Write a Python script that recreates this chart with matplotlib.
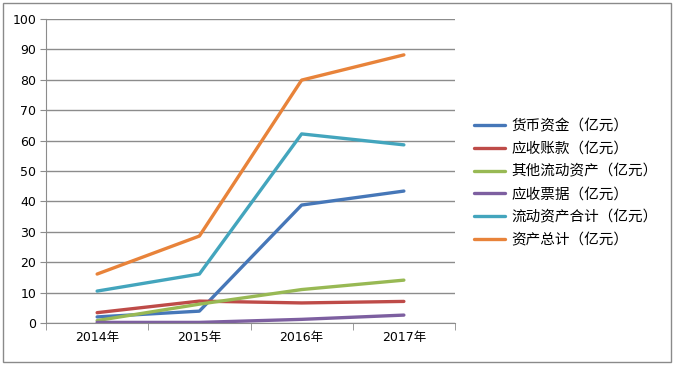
import numpy as np
import matplotlib
matplotlib.use("Agg")
import matplotlib.pyplot as plt
from matplotlib.patches import Rectangle

plt.rcParams['font.family'] = ['DejaVu Sans', 'Noto Sans CJK SC']

years = ['2014年', '2015年', '2016年', '2017年']
series_names = ['货币资金（亿元）', '应收账款（亿元）', '其他流动资产（亿元）',
                '应收票据（亿元）', '流动资产合计（亿元）', '资产总计（亿元）']
cash = [2.0, 3.9, 38.8, 43.4]
receivables = [3.4, 7.2, 6.6, 7.1]
other_current = [0.8, 6.2, 11.0, 14.1]
notes_receivable = [0.2, 0.2, 1.2, 2.6]
current_total = [10.5, 16.1, 62.2, 58.6]
assets_total = [16.1, 28.6, 79.9, 88.2]
all_series = [cash, receivables, other_current, notes_receivable, current_total, assets_total]
colors = ['#4677b8', '#be4b48', '#98b954', '#7d5fa0', '#43a5bd', '#e8833a']

fig = plt.figure(figsize=(6.74, 3.66), dpi=100)
fig.patches.append(Rectangle((3/674, 4/366), 668/674, 359/366, transform=fig.transFigure,
                             fill=False, edgecolor='#8a8a8a', linewidth=1))
ax = fig.add_axes([46/674, 1 - 323/366, 409/674, 304/366])

x = np.arange(len(years))
for vals, name, c in zip(all_series, series_names, colors):
    ax.plot(x, vals, color=c, linewidth=2.4, label=name, solid_capstyle='round')

ax.set_xlim(-0.5, 3.5)
ax.set_ylim(0, 100)
ax.set_yticks(range(0, 101, 10))
ax.yaxis.grid(True, color='#8c8c8c', linewidth=1)
ax.set_axisbelow(True)

ax.set_xticks(x)
ax.set_xticklabels(years, fontsize=9, family=['DejaVu Sans', 'Noto Sans CJK SC'])
ax.tick_params(axis='x', length=0, pad=6)
ax.set_xticks(np.arange(-0.5, 4.0, 1.0), minor=True)
ax.tick_params(axis='x', which='minor', length=5, color='#8c8c8c', direction='out')
ax.tick_params(axis='y', length=4, color='#8c8c8c', labelsize=9, pad=3)

for s in ['top', 'right']:
    ax.spines[s].set_visible(False)
for s in ['left', 'bottom']:
    ax.spines[s].set_color('#8c8c8c')

leg = fig.legend(loc='upper left', bbox_to_anchor=(474/674, 1 - 119/366), frameon=False,
                 prop={'family': ['Noto Sans CJK SC', 'DejaVu Sans'], 'size': 10.5},
                 handlelength=2.1, handletextpad=0.45, labelspacing=0.6, borderaxespad=0,
                 borderpad=0)

fig.savefig('out.png', dpi=100)
